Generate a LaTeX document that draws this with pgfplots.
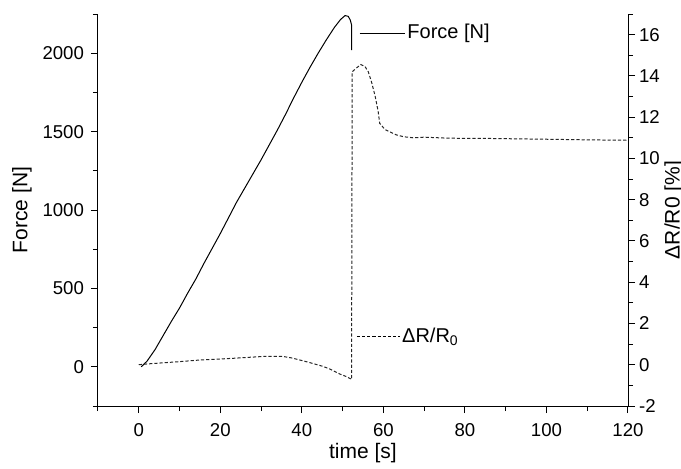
\documentclass[border=0pt]{standalone}
\usepackage{fontspec}
\setmainfont{Liberation Sans}
\usepackage{pgfplots}
\pgfplotsset{compat=1.18}
\pgfplotsset{
  common/.style={
    scale only axis, width=265pt, height=196pt,
    xmin=-10, xmax=120,
    tick align=outside, major tick length=3.5pt, minor tick length=2.5pt,
    tick style={black, line width=0.5pt},
    axis line style={black, line width=0.5pt, -},
    ticklabel style={font=\fontsize{9.3}{11}\selectfont},
    /pgf/number format/assume math mode=true,
    /pgf/number format/1000 sep={},
    label style={font=\fontsize{10.5}{12}\selectfont},
  }
}
\begin{document}
\begin{tikzpicture}
\useasboundingbox (-49pt,-31pt) rectangle (291.5pt,203pt);
\begin{axis}[common,
  ymin=-250, ymax=2250,
  axis x line*=bottom, axis y line*=left,
  xtick={0,20,...,120}, minor xtick={-10,10,...,110},
  ytick={0,500,...,2000}, minor ytick={-250,250,...,2250},
  xticklabel style={yshift=-1.5pt},
  xlabel={time [s]}, ylabel={Force [N]},
  xlabel style={at={(axis description cs:0.5,-0.121)}, anchor=center},
  ylabel style={at={(axis description cs:-0.1434,0.5)}, anchor=center},
]
\addplot[black, line width=0.5pt] coordinates {
(0.6,0) (2,35) (4,110) (6,200) (8,290) (10,375) (12,470) (14,560) (16,660) (18,755) (20,850) (22,950) (24,1050) (26,1140) (28,1230) (30,1320) (32,1415) (34,1510) (36,1610) (38,1715) (40,1815) (42,1910) (44,2000) (46,2085) (48,2165) (49.5,2215) (50.6,2240) (51.4,2235) (51.9,2210) (52.2,2180) (52.2,2020)
};
\draw[black, line width=0.5pt] (axis cs:54.2,2127) -- (axis cs:65.3,2127)
  node[right, inner sep=1pt, font=\fontsize{10}{12}\selectfont] {Force [N]};
\end{axis}
\begin{axis}[common,
  ymin=-2, ymax=17,
  axis x line=none, axis y line*=right,
  ytick={-2,0,...,16}, minor ytick={-1,1,...,17},
  yticklabel style={xshift=-1.5pt},
  ylabel={ΔR/R0 [\%]},
  ylabel style={at={(axis description cs:1.087,0.5)}, anchor=center},
]
\addplot[black!85, line width=0.5pt, dash pattern=on 1.6pt off 1pt] coordinates {
(0,0) (1.5,0.03) (5,0.08) (10,0.15) (15,0.23) (20,0.28) (23,0.31) (27,0.36) (30.5,0.4) (35.4,0.4) (37.5,0.33) (39.5,0.23) (42,0.1) (45.2,-0.08) (47,-0.22) (49.3,-0.45) (51,-0.58) (52.2,-0.71) (52.35,14.2) (53.5,14.4) (54.5,14.55) (55.5,14.45) (56.3,14.2) (57.1,13.7) (58,13.0) (58.7,12.3) (59.1,11.7) (60.4,11.4) (62,11.25) (63.2,11.14) (65,11.05) (67.3,11.0) (70,11.03) (76,10.98) (85,10.97) (100,10.93) (110,10.9) (120,10.88)
};
\draw[black, line width=0.5pt, dash pattern=on 1.6pt off 1pt] (axis cs:53.5,1.35) -- (axis cs:64,1.35)
  node[right, inner sep=1pt, font=\fontsize{10}{12}\selectfont] {ΔR/R\textsubscript{0}};
\end{axis}
\end{tikzpicture}
\end{document}
